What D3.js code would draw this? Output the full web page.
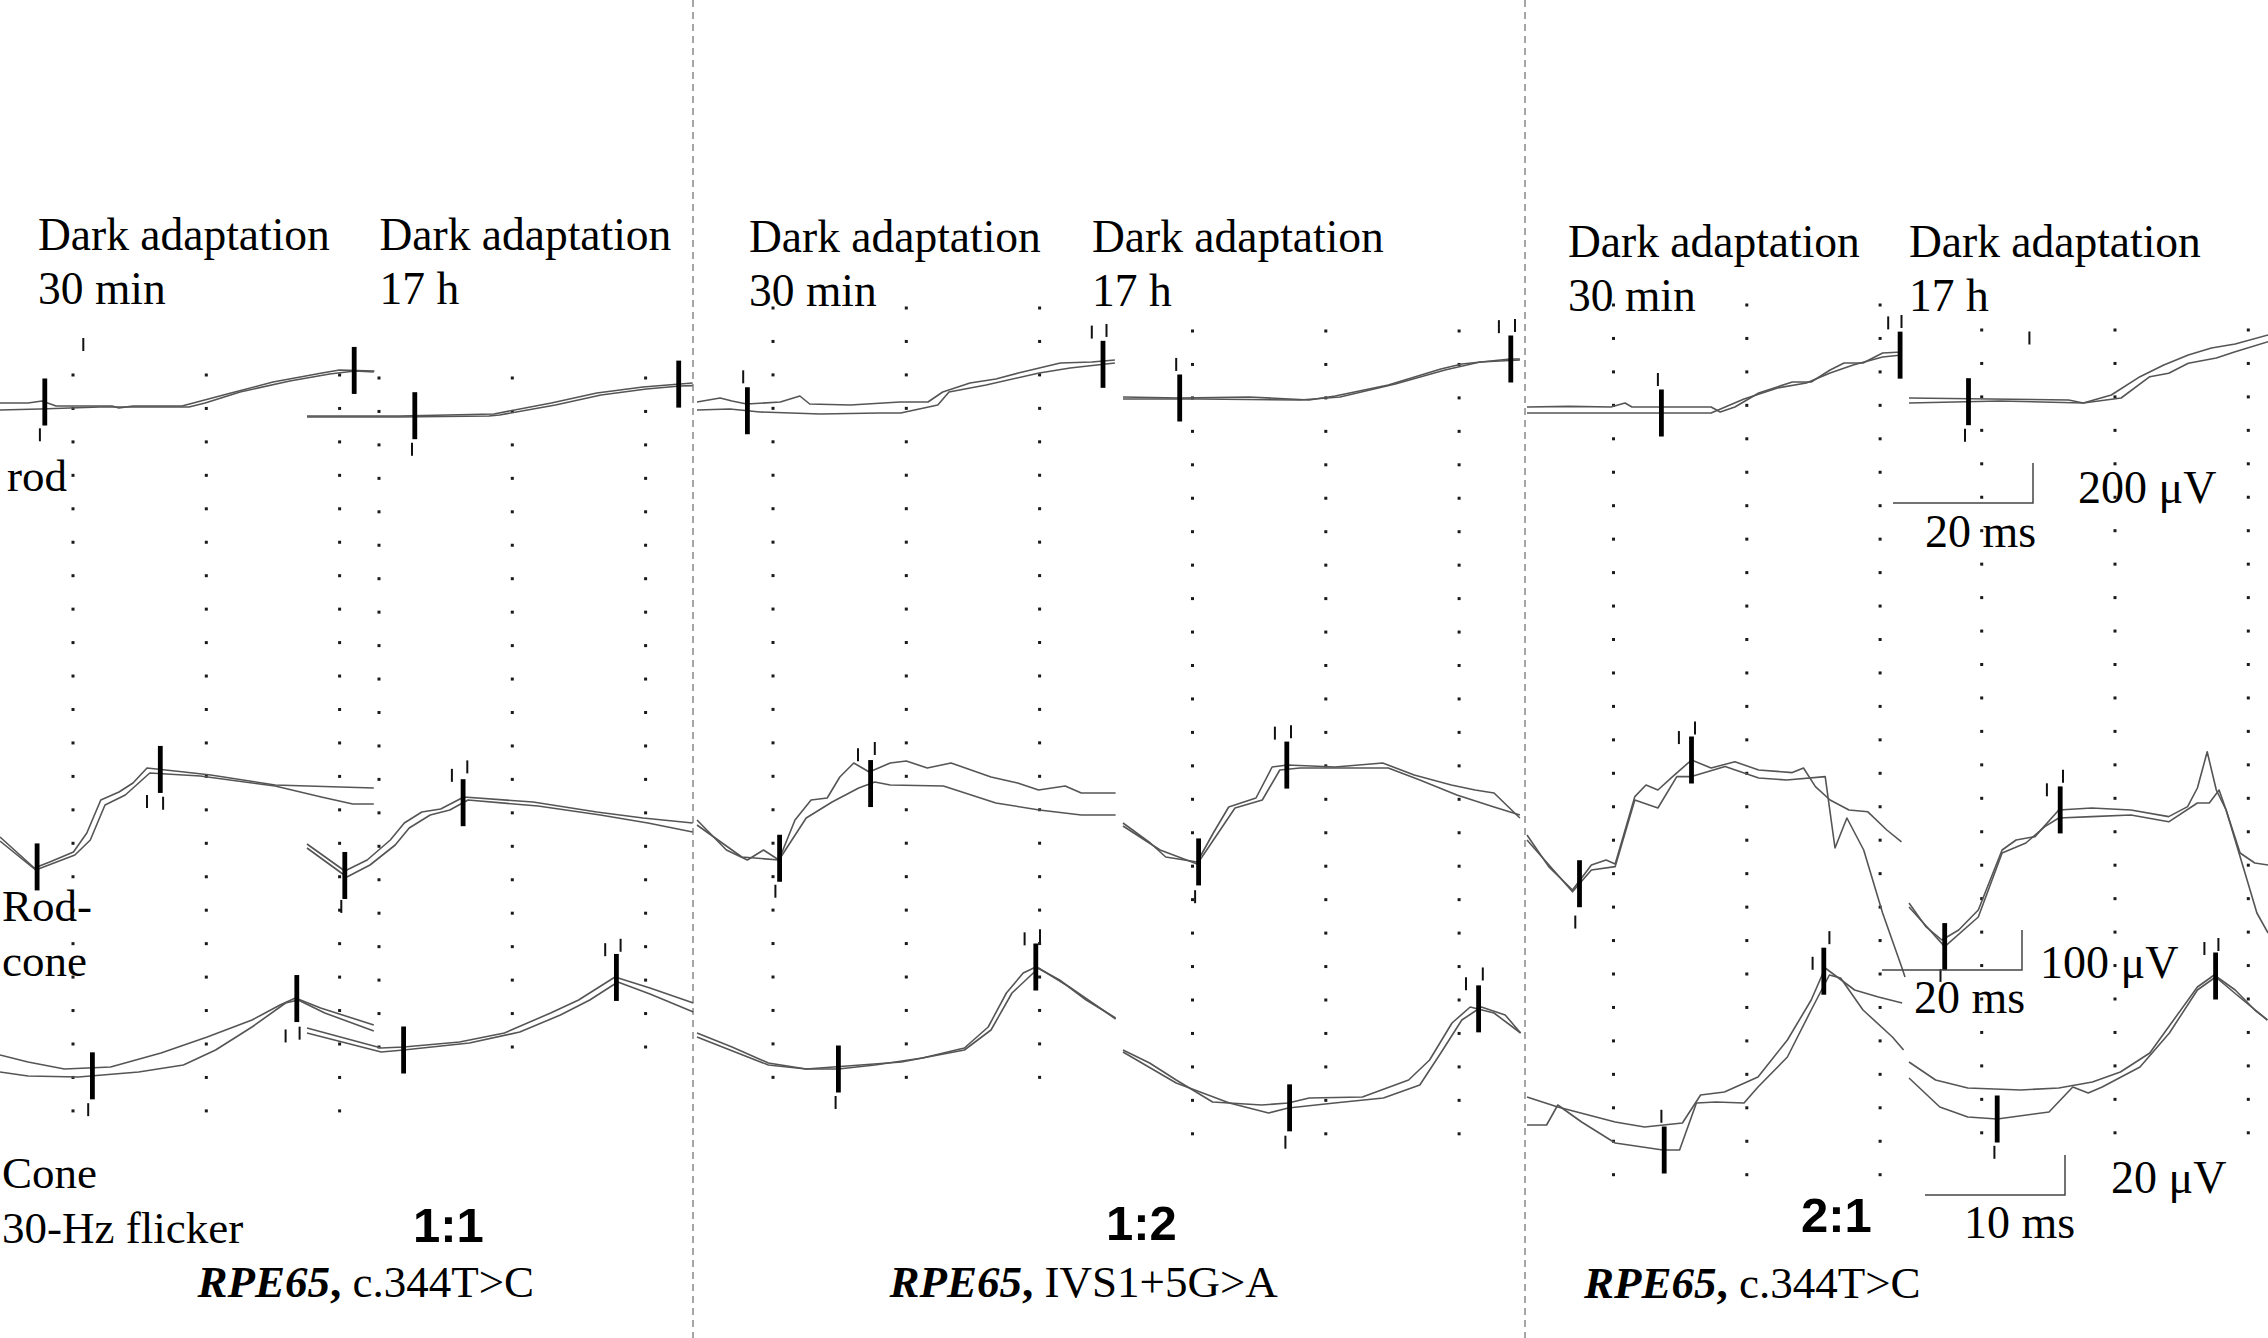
<!DOCTYPE html>
<html>
<head>
<meta charset="utf-8">
<script src="https://cdn.jsdelivr.net/npm/d3@7/dist/d3.min.js"></script>
<style>
body { margin: 0; background: #fff; }
svg { display: block; }
</style>
</head>
<body>
<div id="chart"></div>
<script>
// each trace: [ms, µV] pairs; A and B are the two overlaid recordings
// marks: [ms, kind, curve] -> kind: bar / up / down / upFar, curve: 0 = A, 1 = B

// ---- 1:1, RPE65 c.344T>C ----
var p1RodShortA = [[0,15],[4,15],[6,25],[8,0],[16,0],[17,-10],[19,0],[26,0],[33,65],[39,120],[46,165],[48.5,180],[53.5,175]];
var p1RodShortB = [[0,-20],[5.7,-15],[14.3,-5],[27,-5],[29.3,15],[34.3,70],[41.4,125],[47.1,160],[50.7,175],[53.4,170]];
var p1RodShortMarks = [[6.4,"bar",0],[5.7,"down",0],[11.9,"upFar",0],[50.6,"bar",0]];
var p1RodLongA = [[0,0],[13.3,0],[26.7,10],[34.9,65],[41.4,115],[48,145],[53.3,160],[55.1,165]];
var p1RodLongB = [[0,-5],[13,-5],[26,0],[27.5,5],[35.5,55],[42,105],[48.5,135],[53.3,150],[55.1,152]];
var p1RodLongMarks = [[15.4,"bar",0],[15,"down",0],[53.1,"bar",0]];

var p1RcShortA = [[0,0],[4.9,-77.5],[7.1,-62.5],[10.5,-37.5],[12.4,10],[14.4,92.5],[17,112.5],[19,135],[21,172.5],[26.3,162.5],[30.1,155],[39.3,130],[48.6,125],[53.4,122.5]];
var p1RcShortB = [[0,-10],[5.1,-82.5],[10.7,-45],[12.9,-7.5],[15,80],[17.9,105],[21.4,160],[28.6,152.5],[39.3,127.5],[45.9,100],[50.4,82.5],[53.4,82.5]];
var p1RcShortMarks = [[5.3,"bar",0],[22.9,"bar",0],[21,"down",0],[23.3,"down",0]];
var p1RcLongA = [[0,0],[5.4,-67.5],[8.6,-40],[11.9,10],[13.9,52.5],[16.4,80],[19.1,87.5],[22.4,117.5],[32.3,105],[41.4,80],[48,65],[55.1,52.5]];
var p1RcLongB = [[0,-10],[5.7,-82.5],[9,-52.5],[12.6,-2.5],[14.6,40],[17.6,72.5],[20.4,85],[23,110],[33,95],[41.9,72.5],[48.7,52.5],[55.1,30]];
var p1RcLongMarks = [[5.4,"bar",1],[4.9,"down",1],[22.3,"bar",1],[20.7,"up",1],[22.9,"up",1]];

var p1ConeShortA = [[0,0],[2,-3.5],[4.6,-7],[7.9,-6],[11.5,1],[14.8,9],[18,17.5],[20,25],[21.1,28.5],[22.9,23.5],[26.7,15]];
var p1ConeShortB = [[0,-8.5],[2,-10.5],[5.6,-11],[9.9,-8.5],[13.1,-5],[15.4,2.5],[18,14],[20.4,26],[21.3,27.5],[23.2,21],[26.7,12]];
var p1ConeShortMarks = [[6.6,"bar",1],[6.3,"down",1],[21.2,"bar",0],[20.4,"down",0],[21.4,"down",0]];
var p1ConeLongA = [[0,0],[5.3,-10],[6.9,-9.5],[10.9,-7],[14.1,-2.5],[17.4,7.5],[19.4,14],[22,25.5],[24.5,20],[27.6,12.5]];
var p1ConeLongB = [[0,-2.5],[5.3,-12],[6.9,-11],[11.6,-7.5],[15.2,-2],[18.1,6.5],[20.2,14],[22.2,23],[24.5,17],[27.6,8]];
var p1ConeLongMarks = [[6.9,"bar",1],[22.1,"bar",0],[21.3,"up",0],[22.4,"up",0]];

// ---- 1:2, RPE65 IVS1+5G>A ----
var p2RodShortA = [[0,0],[3.3,20],[5,5],[7.1,-10],[11.9,0],[14.7,30],[16.1,-10],[21.9,-15],[29,0],[33,0],[35.1,50],[39,95],[42.7,115],[45.9,145],[51.9,195],[56.4,200],[59.7,210]];
var p2RodShortB = [[0,-40],[4.7,-35],[9,-50],[17.6,-60],[26.1,-55],[29.1,-55],[34.4,-15],[36,50],[41.3,85],[48.9,145],[53.3,170],[59.7,195]];
var p2RodShortMarks = [[7.2,"bar",1],[6.6,"up",1],[58,"bar",1],[56.4,"up",1],[58.5,"up",1]];
var p2RodLongA = [[0,0],[8.1,-5],[18,0],[26.6,-15],[30.3,5],[37.9,60],[45.4,140],[48.4,165],[55.3,190],[56.7,190]];
var p2RodLongB = [[0,-10],[11,-10],[25.3,-15],[31,0],[38.9,65],[46,135],[51,175],[56.7,185]];
var p2RodLongMarks = [[8.1,"bar",0],[7.6,"up",0],[55.4,"bar",0],[53.7,"up",0],[56,"up",0]];

var p2RcShortA = [[0,0],[4.2,-75],[7.2,-100],[9.5,-75],[11.7,-100],[14,0],[16.3,50],[18.6,55],[20.4,107.5],[22.4,142.5],[24.6,120],[27.6,142.5],[29.9,147.5],[32.9,130],[36.3,142.5],[42,107.5],[45.8,92.5],[48.8,75],[52.6,85],[54.9,67.5],[59.8,67.5]];
var p2RcShortB = [[0,-12.5],[6.4,-92.5],[11.7,-100],[15.6,5],[19.3,45],[23.1,80],[25.4,95],[27.6,87.5],[35.2,85],[42.7,42.5],[48.9,25],[54.9,12.5],[59.8,12.5]];
var p2RcShortMarks = [[11.8,"bar",0],[11.2,"down",0],[24.8,"bar",1],[23,"up",1],[25.4,"up",1]];
var p2RcLongA = [[0,0],[3.9,-50],[6.1,-85],[10.6,-97.5],[12.9,-25],[15.1,40],[19,62.5],[21.3,140],[23.5,145],[30.3,140],[37.1,150],[41.6,120],[46.9,95],[50.3,82.5],[53,75],[56.7,12.5]];
var p2RcLongB = [[0,-7.5],[5.3,-67.5],[10.6,-102.5],[13.4,-30],[16,37.5],[19.9,57.5],[22.4,132.5],[25.3,137.5],[37.9,137.5],[42.4,107.5],[47.7,70],[53,40],[56.7,20]];
var p2RcLongMarks = [[10.8,"bar",1],[10.3,"down",1],[23.4,"bar",0],[21.7,"up",0],[24,"up",0]];

var p2ConeShortA = [[0,0],[2.5,-7],[5.1,-15],[7.8,-18],[10.1,-18],[12.7,-16],[16.1,-12.5],[19.1,-7.5],[20.8,3],[22.1,20],[23.3,30],[24.2,33],[25.9,26.5],[27.8,16.5],[29.9,7.5]];
var p2ConeShortB = [[0,-2],[5.1,-16],[7.8,-18],[14.6,-14.5],[19.1,-8.5],[21,1.5],[22.5,20],[24.4,32.5],[26.6,23],[29.3,10],[29.9,7]];
var p2ConeShortMarks = [[10.1,"bar",0],[9.9,"down",0],[24.2,"bar",0],[23.4,"up",0],[24.5,"up",0]];
var p2ConeLongA = [[0,0],[1.9,-6.5],[3.8,-15],[6.4,-26],[9.9,-27.5],[11.8,-26.5],[13.3,-24],[17.1,-23.5],[20.4,-15],[21.9,-5],[23.5,13.5],[24.8,21.5],[26.5,18.5],[28.4,8.5]];
var p2ConeLongB = [[0,-1],[3.8,-16.5],[7.6,-26.5],[10.4,-31.5],[11.8,-29],[15.1,-26.5],[18.6,-24],[21.2,-17.5],[22.7,-1.5],[24.2,15],[25.6,21.5],[27.3,17.5],[28.4,8.5]];
var p2ConeLongMarks = [[11.9,"bar",1],[11.6,"down",1],[25.4,"bar",1],[24.5,"up",1],[25.7,"up",1]];

// ---- 2:1, RPE65 c.344T>C ----
var p3RodShortA = [[0,0],[6,3],[12,0],[14,20],[15,0],[26.3,0],[27.6,-25],[29.7,0],[33.1,70],[37.9,125],[40.6,125],[43.3,185],[45.3,220],[48,220],[50.8,270],[53.5,275]];
var p3RodShortB = [[0,-30],[26.3,-30],[31,40],[35.8,95],[39.9,120],[43.3,170],[46.6,210],[50.8,250],[53.5,260]];
var p3RodShortMarks = [[19.2,"bar",1],[18.7,"up",1],[53.3,"bar",1],[51.6,"up",1],[53.5,"up",1]];
var p3RodLongA = [[0,0],[11.6,-5],[22.8,-10],[24.9,-25],[28.9,15],[33,106.5],[36.4,165],[39.9,215],[43.2,250],[46.6,270],[51.3,315]];
var p3RodLongB = [[0,-25],[13,-15],[24.9,-25],[30.3,0],[34.4,106.5],[37.1,123.5],[39.9,173.5],[43.9,200],[46.6,231.5],[51.3,281.5]];
var p3RodLongMarks = [[8.5,"bar",1],[8,"down",1],[17.2,"upFar",0]];

var p3RcShortA = [[0,0],[3.1,-79],[6.5,-137.5],[9.2,-75],[11.3,-62.5],[12.6,-72.5],[15.4,96],[17,125],[18.7,112.5],[20.8,146],[23.5,187.5],[26.3,167.5],[29.7,183],[33.1,162.5],[37.9,156],[39.5,167.5],[41.2,121],[43.3,87.5],[46,62.5],[48.7,58],[51.4,12.5],[53.5,-17]];
var p3RcShortB = [[0,-12.5],[6.5,-142],[9.2,-87.5],[12.6,-79],[15.4,87.5],[18.7,67.5],[21.4,146],[23.5,146],[28.3,171],[33.1,142.5],[37.1,137.5],[42.6,146],[44,-32.5],[45.7,42.5],[48.1,-37.5],[50.8,-195],[53.5,-329],[54,-355]];
var p3RcShortMarks = [[7.5,"bar",1],[6.9,"down",1],[23.5,"bar",0],[21.7,"up",0],[24,"up",0]];
var p3RcLongA = [[0,0],[2.4,-59],[4.7,-92.5],[7.1,-67.5],[9.9,-17.5],[13.3,132.5],[15.3,157.5],[18,166],[21.4,232.5],[26.1,237.5],[31.7,232.5],[37.1,216],[39.8,241],[41.2,287.5],[42.6,378],[43.9,282.5],[45.3,232.5],[47.3,125],[49.4,100],[51.3,95]];
var p3RcLongB = [[0,-10],[5.1,-109],[9.9,-35],[13.3,125],[16.7,150],[19.4,191],[21.4,212.5],[26.1,216],[31.7,220],[37.1,203],[41.2,250],[42.9,250],[44.3,282.5],[45.3,232.5],[48,75],[49.7,-25],[51.3,-75]];
var p3RcLongMarks = [[5.1,"bar",1],[4.5,"down",1],[21.6,"bar",0],[19.7,"up",0],[22,"up",0]];

var p3ConeShortA = [[0,0],[2.2,-5],[6.3,-12.5],[8.4,-15],[11.1,-13],[12.4,1],[14.1,2.5],[16.5,10],[18.6,28.5],[20.3,48.5],[21.3,64.5],[23.4,53.5],[25.1,50],[26.8,47]];
var p3ConeShortB = [[0,-14],[1.4,-14],[2.2,-4],[3.9,-12.5],[6.3,-23],[9.7,-26.5],[10.9,-26.5],[12.1,-3],[13.5,-2.5],[15.5,-3],[16.5,5],[18.6,20],[20.3,43.5],[21.6,61],[22.4,59.5],[24,43.5],[26.1,30],[26.9,23.5]];
var p3ConeShortMarks = [[9.8,"bar",1],[9.6,"up",1],[21.2,"bar",0],[20.4,"up",0],[21.6,"up",0]];
var p3ConeLongA = [[0,0],[1.9,-9],[4.2,-13],[8,-14],[10.7,-13],[13.1,-10],[15.1,-5],[17.2,4.5],[18.9,21],[20.6,37.5],[21.8,43.5],[23.3,36],[24.7,26],[25.6,21]];
var p3ConeLongB = [[0,-8],[2.2,-22.5],[4.2,-27.5],[6.3,-28.5],[10,-25],[11.7,-12.5],[12.8,-15.5],[13.8,-12.5],[16.5,-2.5],[18.6,14.5],[20.6,36],[21.9,42.5],[23.6,32.5],[25.6,21]];
var p3ConeLongMarks = [[6.3,"bar",1],[6.1,"down",1],[21.9,"bar",0],[21.1,"up",0],[22.1,"up",0]];

// labels
var groupLabels = ["1:1", "1:2", "2:1"];
var mutations = ["c.344T>C", "IVS1+5G>A", "c.344T>C"];
var adaptLabels = ["30 min", "17 h"];
var barMs = [20, 20, 10];
var barUv = [200, 100, 20];
var barMsLabels = ["20 ms", "20 ms", "10 ms"];
var barUvLabels = ["200 \u03bcV", "100 \u03bcV", "20 \u03bcV"];

var W = 2268, H = 1338;
var serif = "'Liberation Serif', 'Times New Roman', serif";
var sans = "'Liberation Sans', Arial, sans-serif";

var svg = d3.select("#chart").append("svg")
    .attr("width", W)
    .attr("height", H)
    .style("background", "#fff");

// time and voltage scales per response type
var scales = {
    rod: { x: d3.scaleLinear().domain([0, 20]).range([0, 140]), y: d3.scaleLinear().domain([0, 200]).range([0, -40]) },
    rc: { x: d3.scaleLinear().domain([0, 20]).range([0, 140]), y: d3.scaleLinear().domain([0, 100]).range([0, -40]) },
    cone: { x: d3.scaleLinear().domain([0, 10]).range([0, 140]), y: d3.scaleLinear().domain([0, 20]).range([0, -40]) }
};

// dot grids of the six recording windows
var gridLeft = [73, 379, 773, 1192.5, 1613.5, 1981.7];
var gridTop = [375, 378, 308, 331, 305, 330];
var gridRows = [23, 21, 24, 25, 27, 25];

gridLeft.forEach(function (x0, i) {
    var pts = [];
    d3.range(3).forEach(function (c) {
        d3.range(gridRows[i]).forEach(function (r) {
            pts.push([x0 + c * 133.3, gridTop[i] + r * 33.45]);
        });
    });
    svg.append("g")
        .selectAll("rect")
        .data(pts)
        .enter()
        .append("rect")
        .attr("x", function (d) { return d[0] - 1.5; })
        .attr("y", function (d) { return d[1] - 1.5; })
        .attr("width", 3)
        .attr("height", 3)
        .attr("fill", "#1a1a1a");
});

// panel separators
[693, 1525].forEach(function (x) {
    svg.append("line")
        .attr("x1", x).attr("x2", x)
        .attr("y1", 0).attr("y2", H)
        .attr("stroke", "#777")
        .attr("stroke-width", 1.3)
        .attr("stroke-dasharray", "7,5");
});

// [type, x origin, y origin, A, B, marks]
var traces = [
    ["rod", 0, 406, p1RodShortA, p1RodShortB, p1RodShortMarks],
    ["rod", 307, 416, p1RodLongA, p1RodLongB, p1RodLongMarks],
    ["rc", 0, 837, p1RcShortA, p1RcShortB, p1RcShortMarks],
    ["rc", 307, 844, p1RcLongA, p1RcLongB, p1RcLongMarks],
    ["cone", 0, 1055, p1ConeShortA, p1ConeShortB, p1ConeShortMarks],
    ["cone", 307, 1028, p1ConeLongA, p1ConeLongB, p1ConeLongMarks],
    ["rod", 697, 402, p2RodShortA, p2RodShortB, p2RodShortMarks],
    ["rod", 1123, 397, p2RodLongA, p2RodLongB, p2RodLongMarks],
    ["rc", 697, 820, p2RcShortA, p2RcShortB, p2RcShortMarks],
    ["rc", 1123, 823, p2RcLongA, p2RcLongB, p2RcLongMarks],
    ["cone", 697, 1033, p2ConeShortA, p2ConeShortB, p2ConeShortMarks],
    ["cone", 1123, 1050, p2ConeLongA, p2ConeLongB, p2ConeLongMarks],
    ["rod", 1527, 407, p3RodShortA, p3RodShortB, p3RodShortMarks],
    ["rod", 1909, 398, p3RodLongA, p3RodLongB, p3RodLongMarks],
    ["rc", 1527, 835, p3RcShortA, p3RcShortB, p3RcShortMarks],
    ["rc", 1909, 903, p3RcLongA, p3RcLongB, p3RcLongMarks],
    ["cone", 1527, 1097, p3ConeShortA, p3ConeShortB, p3ConeShortMarks],
    ["cone", 1909, 1062, p3ConeLongA, p3ConeLongB, p3ConeLongMarks]
];

var bisect = d3.bisector(function (d) { return d[0]; }).left;

function valueAt(curve, t) {
    var i = bisect(curve, t);
    if (i <= 0) return curve[0][1];
    if (i >= curve.length) return curve[curve.length - 1][1];
    var a = curve[i - 1], b = curve[i];
    return a[1] + (b[1] - a[1]) * (t - a[0]) / (b[0] - a[0]);
}

traces.forEach(function (tr) {
    var sc = scales[tr[0]];
    var g = svg.append("g")
        .attr("transform", "translate(" + tr[1] + "," + tr[2] + ")");
    var line = d3.line()
        .x(function (d) { return sc.x(d[0]); })
        .y(function (d) { return sc.y(d[1]); });

    [tr[3], tr[4]].forEach(function (curve) {
        g.append("path")
            .datum(curve)
            .attr("d", line)
            .attr("fill", "none")
            .attr("stroke", "#555")
            .attr("stroke-width", 1.6)
            .attr("stroke-linejoin", "round");
    });

    tr[5].forEach(function (m) {
        var curve = m[2] ? tr[4] : tr[3];
        var x = sc.x(m[0]);
        var yc = sc.y(valueAt(curve, m[0]));
        if (m[1] == "bar") {
            g.append("rect")
                .attr("x", x - 2.4)
                .attr("y", yc - 23.5)
                .attr("width", 4.8)
                .attr("height", 47)
                .attr("fill", "#000");
        } else {
            var y1, y2;
            if (m[1] == "up") { y1 = yc - 40; y2 = yc - 27; }
            else if (m[1] == "upFar") { y1 = yc - 68; y2 = yc - 55; }
            else { y1 = yc + 27; y2 = yc + 40; }
            g.append("line")
                .attr("x1", x).attr("x2", x)
                .attr("y1", y1).attr("y2", y2)
                .attr("stroke", "#111")
                .attr("stroke-width", 2);
        }
    });
});

// calibration bars (panel 3)
var barTypes = ["rod", "rc", "cone"];
var barCorner = [[2033, 503], [2022, 970], [2065, 1195]];
var barMsPos = [[1925, 547], [1914, 1013], [1964, 1238]];
var barUvPos = [[2078, 503], [2040, 978], [2111, 1193]];

barTypes.forEach(function (type, i) {
    var sc = scales[type];
    var cx = barCorner[i][0], cy = barCorner[i][1];
    svg.append("path")
        .attr("d", "M" + (cx - sc.x(barMs[i])) + "," + cy + "H" + cx + "V" + (cy + sc.y(barUv[i])))
        .attr("fill", "none")
        .attr("stroke", "#444")
        .attr("stroke-width", 1.5);
    svg.append("text")
        .attr("x", barMsPos[i][0]).attr("y", barMsPos[i][1])
        .style("font-family", serif).style("font-size", "46px")
        .text(barMsLabels[i]);
    svg.append("text")
        .attr("x", barUvPos[i][0]).attr("y", barUvPos[i][1])
        .style("font-family", serif).style("font-size", "46px")
        .text(barUvLabels[i]);
});

// headers
var headX = [[38, 379.5], [749, 1092], [1568, 1909]];
var headY = [250, 252, 257];

headX.forEach(function (xs, p) {
    xs.forEach(function (x, k) {
        var t = svg.append("text")
            .attr("x", x).attr("y", headY[p])
            .style("font-family", serif).style("font-size", "45.5px");
        t.append("tspan").attr("x", x).text("Dark adaptation");
        t.append("tspan").attr("x", x).attr("dy", 54).text(adaptLabels[k]);
    });
});

// row labels
var rowText = [["rod", 7, 491], ["Rod-", 2, 921], ["cone", 2, 976], ["Cone", 2, 1188], ["30-Hz flicker", 2, 1243]];
svg.selectAll("text.row")
    .data(rowText)
    .enter()
    .append("text")
    .attr("class", "row")
    .attr("x", function (d) { return d[1]; })
    .attr("y", function (d) { return d[2]; })
    .style("font-family", serif)
    .style("font-size", "45px")
    .text(function (d) { return d[0]; });

// ratio and genotype
var ratioPos = [[413, 1242], [1106, 1240], [1801, 1232]];
var genoPos = [[197.5, 1297], [889.5, 1297], [1584, 1298]];

groupLabels.forEach(function (lab, i) {
    svg.append("text")
        .attr("x", ratioPos[i][0]).attr("y", ratioPos[i][1])
        .style("font-family", sans).style("font-size", "49px").style("font-weight", "bold")
        .text(lab);
    var t = svg.append("text")
        .attr("x", genoPos[i][0]).attr("y", genoPos[i][1])
        .style("font-family", serif).style("font-size", "45px");
    t.append("tspan").style("font-style", "italic").style("font-weight", "bold").text("RPE65");
    t.append("tspan").style("font-weight", "bold").text(",");
    t.append("tspan").text(" " + mutations[i]);
});
</script>
</body>
</html>
